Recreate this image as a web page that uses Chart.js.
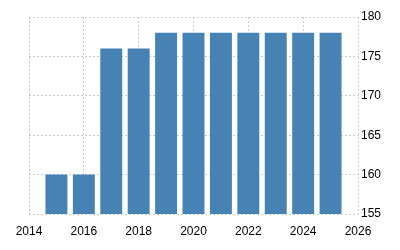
<!DOCTYPE html>
<html>
<head>
<meta charset="utf-8">
<script src="https://cdn.jsdelivr.net/npm/chart.js@4/dist/chart.umd.min.js"></script>
<style>
  html, body { margin: 0; padding: 0; background: #fff; }
  #wrap { width: 400px; height: 250px; }
</style>
</head>
<body>
<div id="wrap"><canvas id="chart"></canvas></div>
<script>
const years = [2015, 2016, 2017, 2018, 2019, 2020, 2021, 2022, 2023, 2024, 2025];
const values = [160, 160, 176, 176, 178, 178, 178, 178, 178, 178, 178];

const gridStyle = {
    color: '#cccccc',
    lineWidth: 1,
    drawTicks: false
};

new Chart(document.getElementById('chart'), {
    type: 'bar',
    data: {
        datasets: [{
            data: years.map((y, i) => ({ x: y, y: values[i] })),
            backgroundColor: '#4682b4',
            borderWidth: 0,
            barPercentage: 0.8,
            categoryPercentage: 1
        }]
    },
    options: {
        responsive: true,
        maintainAspectRatio: false,
        animation: false,
        layout: { padding: { left: 29, top: 17, right: 0, bottom: 0 } },
        plugins: { legend: { display: false }, tooltip: { enabled: false } },
        scales: {
            x: {
                type: 'linear',
                offset: false,
                min: 2014,
                max: 2026,
                grid: { ...gridStyle, offset: false },
                border: { display: false, dash: [2, 2] },
                ticks: {
                    stepSize: 2,
                    padding: 10,
                    color: '#000',
                    font: { family: 'Arial, "Liberation Sans"', size: 12 },
                    maxRotation: 0,
                    callback: v => String(v)
                },
                afterFit: s => { s.height = 36; }
            },
            y: {
                position: 'right',
                min: 155,
                max: 180,
                grid: gridStyle,
                border: { display: false, dash: [2, 2] },
                ticks: {
                    stepSize: 5,
                    padding: 3,
                    color: '#000',
                    font: { family: 'Arial, "Liberation Sans"', size: 12 }
                },
                afterFit: s => { s.width = 42; }
            }
        }
    }
});
</script>
</body>
</html>
